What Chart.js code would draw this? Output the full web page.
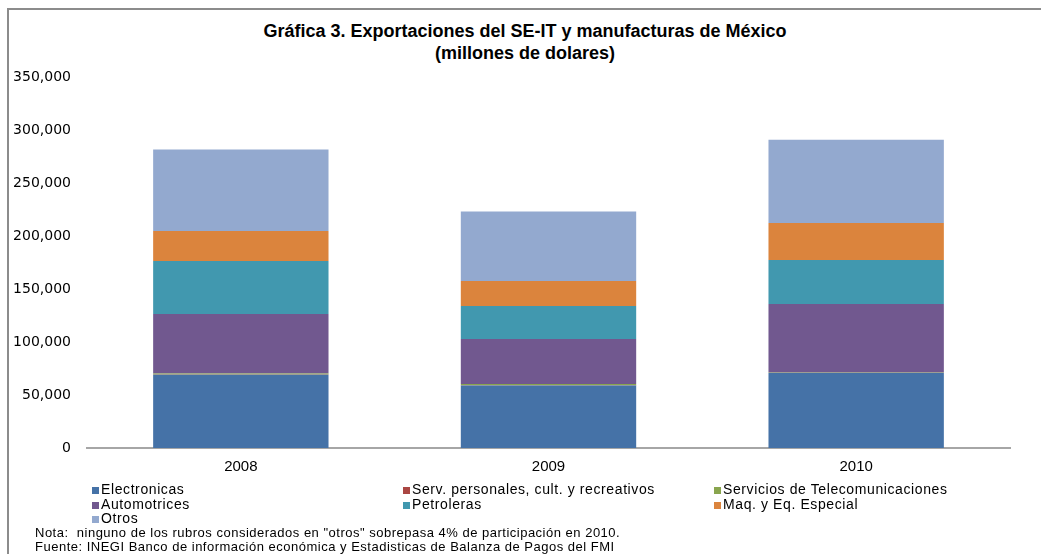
<!DOCTYPE html>
<html lang="es">
<head>
    <meta charset="UTF-8">
    <title>Exportaciones del SE-IT y manufacturas de México</title>
    <style>
        body { margin: 0; background: #fff; font-family: "Liberation Sans", Arial, sans-serif; }
        #wrap { position: relative; width: 1041px; height: 554px; overflow: hidden; }
        #frame { position: absolute; left: 7px; top: 8px; width: 1100px; height: 600px; border-left: 2px solid #8c8c8c; border-top: 2px solid #8c8c8c; }
        #chart { position: absolute; left: 0; top: 2px; }
        .title { position: absolute; left: 0; width: 1050px; text-align: center; font-weight: bold; font-size: 18px; color: #000; }
        .leg { position: absolute; font-size: 14px; letter-spacing: 0.6px; color: #000; white-space: nowrap; line-height: 14px; }
        .leg i { display: inline-block; width: 7px; height: 7px; margin-right: 2px; vertical-align: 0px; }
        .note { position: absolute; left: 35px; font-size: 13px; letter-spacing: 0.5px; color: #000; white-space: nowrap; line-height: 14px; }
    </style>
</head>
<body>
<div id="wrap">
    <div id="frame"></div>
    <div class="title" style="top:21px;">Gráfica 3. Exportaciones del SE-IT y manufacturas de México</div>
    <div class="title" style="top:43px;">(millones de dolares)</div>
    <canvas id="chart" width="1041" height="480"></canvas>
    <div id="legend"></div>
    <div class="note" style="top:526px;">Nota:&nbsp; ninguno de los rubros considerados en "otros" sobrepasa 4% de participación en 2010.</div>
    <div class="note" style="top:540px;">Fuente: INEGI Banco de información económica y Estadisticas de Balanza de Pagos del FMI</div>
</div>
<script src="https://cdn.jsdelivr.net/npm/chart.js"></script>
<script>
    // datos (millones de dolares)
    const years = ['2008', '2009', '2010'];
    const electronicas = [69000, 59000, 71000];
    const servPersonales = [300, 300, 200];
    const telecom = [1000, 1000, 500];
    const automotrices = [56100, 42500, 64100];
    const petroleras = [50000, 31200, 41600];
    const maquinaria = [28300, 23500, 34900];
    const otros = [76800, 65500, 78600];
    const yTicks = [0, 50000, 100000, 150000, 200000, 250000, 300000, 350000];

    const series = [
        { label: 'Electronicas', data: electronicas, color: '#4572a7' },
        { label: 'Serv. personales, cult. y recreativos', data: servPersonales, color: '#aa4643' },
        { label: 'Servicios de Telecomunicaciones', data: telecom, color: '#89a54e' },
        { label: 'Automotrices', data: automotrices, color: '#71588f' },
        { label: 'Petroleras', data: petroleras, color: '#4198af' },
        { label: 'Maq. y Eq. Especial', data: maquinaria, color: '#db843d' },
        { label: 'Otros', data: otros, color: '#93a9cf' }
    ];

    // leyenda en tres columnas como en el original
    const legPos = [[92, 482], [403, 482], [714, 482], [92, 497], [403, 497], [714, 497], [92, 511]];
    let legHtml = '';
    series.forEach((s, i) => {
        legHtml += `<div class="leg" style="left:${legPos[i][0]}px;top:${legPos[i][1]}px;"><i style="background:${s.color}"></i>${s.label}</div>`;
    });
    document.getElementById('legend').innerHTML = legHtml;

    const ctx = document.getElementById('chart').getContext('2d');
    new Chart(ctx, {
        type: 'bar',
        data: {
            labels: years,
            datasets: series.map(s => ({
                label: s.label,
                data: s.data,
                backgroundColor: s.color,
                borderWidth: 0,
                categoryPercentage: 1,
                barPercentage: 0.57
            }))
        },
        options: {
            responsive: false,
            animation: false,
            layout: { padding: { top: 75, right: 31, left: 0, bottom: 0 } },
            plugins: {
                legend: { display: false },
                title: { display: false },
                tooltip: { enabled: false }
            },
            scales: {
                x: {
                    stacked: true,
                    grid: { display: false, drawTicks: false },
                    border: { display: true, color: '#a6a6a6', width: 2 },
                    ticks: { color: '#000', padding: 10, font: { family: 'Liberation Sans', size: 15 } },
                    afterFit: s => { s.height = 34; }
                },
                y: {
                    stacked: true,
                    min: 0,
                    max: 350000,
                    grid: { display: false, drawTicks: false },
                    border: { display: false },
                    afterBuildTicks: s => { s.ticks = yTicks.map(v => ({ value: v })); },
                    ticks: {
                        color: '#000',
                        padding: 16,
                        font: { family: 'DejaVu Sans', size: 14 },
                        callback: v => v.toLocaleString('en-US')
                    },
                    afterFit: s => { s.width = 87; }
                }
            }
        }
    });
</script>
</body>
</html>
